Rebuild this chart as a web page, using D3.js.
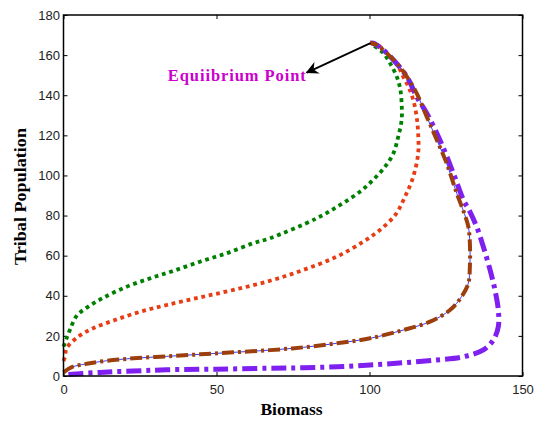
<!DOCTYPE html>
<html>
<head>
<meta charset="utf-8">
<script src="https://cdn.jsdelivr.net/npm/d3@7"></script>
<style>
  body { margin: 0; background: #fff; }
  svg { display: block; }
</style>
</head>
<body>
<div id="chart"></div>
<script>
const width = 536;
const height = 426;

// trajectories, [biomass, tribal population]
const greenPath = [[0, 14.6], [1, 18.8], [2.1, 23], [4.3, 30], [8.1, 34.6], [13, 39], [20.6, 44.5],
  [28.3, 48.7], [35.9, 52.4], [44.6, 57], [53.3, 61.2], [62, 66.2], [67.5, 68.7], [82.7, 78.6],
  [90.4, 85.3], [96.9, 91.9], [101.2, 97.8], [105.1, 104.4], [107.8, 111], [109.4, 119.4],
  [110.5, 127.7], [110.5, 136], [110, 143.5], [108.9, 149.3], [106.7, 156], [104.5, 161],
  [101.2, 165], [100.3, 166]];
const redPath = [[0, 7.5], [0.5, 9.6], [1, 13.8], [4.8, 19.6], [9.7, 23.8], [16.8, 27.9], [25, 32],
  [33.7, 35.4], [44.6, 39.2], [55.5, 42.9], [67.5, 47.5], [78.4, 52.9], [89.3, 59.5], [98, 67],
  [103.4, 72.8], [108.5, 80.5], [111.6, 89.4], [114.3, 99.4], [115.9, 111], [115.9, 121],
  [115.4, 129.3], [114.3, 137.7], [112.7, 144.3], [111, 149.3], [109.4, 154.3], [106.7, 159.3],
  [103.4, 164.2], [100.3, 166]];
const brownPath = [[0, 1.8], [2.7, 4.4], [7.6, 6.1], [14.1, 7.6], [22.8, 8.8], [33.7, 9.8], [44.6, 10.8],
  [55.5, 11.8], [67.5, 12.9], [78.4, 14.3], [89.3, 16.3], [100.2, 18.8], [111, 22.9], [119.8, 27.1],
  [126.3, 32.9], [130.1, 39.6], [132.3, 46.2], [132.8, 54.5], [132.8, 66.2], [132.3, 74.5],
  [131, 81], [128.5, 91.1], [125.2, 106.1], [122, 117.7], [118.7, 129.3], [115.4, 141],
  [112.2, 149.3], [108.9, 156], [105.6, 161], [102.4, 165.1], [100.2, 166.2]];
const purplePath = [[1.6, 0.8], [11.9, 1.8], [22.8, 2.5], [33.7, 3.1], [50, 3.4], [67.5, 3.9],
  [78.4, 4.1], [89.3, 4.6], [100.2, 5.5], [111, 6.6], [122, 8], [130.7, 9.6], [137.2, 13],
  [140.5, 18], [142.1, 24.6], [142.1, 32.9], [141, 42.9], [139.4, 52.9], [137.2, 64.5],
  [135, 74.5], [132.8, 82], [130.7, 87.8], [127.4, 101.1], [123, 117.7], [118.7, 131],
  [115.4, 139.3], [112.2, 149.3], [107.8, 157.6], [104.5, 162.6], [101.2, 166], [100.3, 166]];

const xTicks = [0, 50, 100, 150];
const yTicks = [0, 20, 40, 60, 80, 100, 120, 140, 160, 180];
const equilibrium = [100.3, 166];
const labelAt = [79.5, 151.3];

const margin = { top: 15, right: 13.5, bottom: 50, left: 63.5 };

const svg = d3.select("#chart")
  .append("svg")
  .attr("width", width)
  .attr("height", height);

const x = d3.scaleLinear().domain([0, 150]).range([margin.left, width - margin.right]);
const y = d3.scaleLinear().domain([0, 180]).range([height - margin.bottom, margin.top]);

const line = d3.line().x(d => x(d[0])).y(d => y(d[1])).curve(d3.curveCatmullRom.alpha(0.5));

const serif = "'Liberation Serif', 'Times New Roman', serif";

// axes, ticks inside on all four sides
function styleAxis(g, hideText) {
  g.select(".domain").remove();
  g.selectAll(".tick line").attr("stroke", "#000");
  g.selectAll(".tick text")
    .attr("font-family", "'Liberation Sans', Arial, sans-serif")
    .attr("font-size", 13)
    .attr("fill", "#222");
  if (hideText) g.selectAll(".tick text").remove();
}

svg.append("g")
  .attr("transform", `translate(0,${y(0)})`)
  .call(d3.axisBottom(x).tickValues(xTicks).tickSize(-4).tickPadding(9))
  .call(g => styleAxis(g, false));
svg.append("g")
  .attr("transform", `translate(0,${y(180)})`)
  .call(d3.axisTop(x).tickValues(xTicks).tickSize(-4))
  .call(g => styleAxis(g, true));
svg.append("g")
  .attr("transform", `translate(${x(0)},0)`)
  .call(d3.axisLeft(y).tickValues(yTicks).tickSize(-4).tickPadding(3.5))
  .call(g => styleAxis(g, false));
svg.append("g")
  .attr("transform", `translate(${x(150)},0)`)
  .call(d3.axisRight(y).tickValues(yTicks).tickSize(-4))
  .call(g => styleAxis(g, true));

// curves
svg.append("path").datum(greenPath).attr("d", line)
  .attr("fill", "none").attr("stroke", "#008000").attr("stroke-width", 3.8)
  .attr("stroke-dasharray", "3.8,3.8");
svg.append("path").datum(redPath).attr("d", line)
  .attr("fill", "none").attr("stroke", "#e83c14").attr("stroke-width", 3.8)
  .attr("stroke-dasharray", "3.8,3.8");
svg.append("path").datum(purplePath).attr("d", line)
  .attr("fill", "none").attr("stroke", "#7f1ff0").attr("stroke-width", 5)
  .attr("stroke-dasharray", "15,5,4,5");
svg.append("path").datum(brownPath).attr("d", line)
  .attr("fill", "none").attr("stroke", "#3b3bff").attr("stroke-width", 1);
svg.append("path").datum(brownPath).attr("d", line)
  .attr("fill", "none").attr("stroke", "#9c3f0c").attr("stroke-width", 4)
  .attr("stroke-dasharray", "12,4,3,4");

// frame
svg.append("rect")
  .attr("x", x(0)).attr("y", y(180))
  .attr("width", x(150) - x(0)).attr("height", y(0) - y(180))
  .attr("fill", "none").attr("stroke", "#000").attr("stroke-width", 1.5);

// annotation
svg.append("defs").append("marker")
  .attr("id", "arrow")
  .attr("viewBox", "0 0 10 10")
  .attr("refX", 9).attr("refY", 5)
  .attr("markerWidth", 7).attr("markerHeight", 7)
  .attr("orient", "auto")
  .append("path")
  .attr("d", "M0,0 L10,5 L0,10 L3,5 Z")
  .attr("fill", "#000");

svg.append("line")
  .attr("x1", x(equilibrium[0])).attr("y1", y(equilibrium[1]))
  .attr("x2", x(labelAt[0])).attr("y2", y(labelAt[1]))
  .attr("stroke", "#000").attr("stroke-width", 1.8)
  .attr("marker-end", "url(#arrow)");

svg.append("text")
  .attr("x", x(labelAt[0]) - 139).attr("y", y(labelAt[1]) + 8)
  .attr("textLength", 138)
  .attr("lengthAdjust", "spacing")
  .attr("font-family", serif)
  .attr("font-weight", "bold")
  .attr("font-size", 16.5)
  .attr("fill", "#cc00cc")
  .text("Equiibrium Point");

// axis titles
svg.append("text")
  .attr("x", (x(0) + x(150)) / 2 - 1.5).attr("y", 415)
  .attr("text-anchor", "middle")
  .attr("font-family", serif)
  .attr("font-weight", "bold")
  .attr("font-size", 17.5)
  .text("Biomass");

svg.append("text")
  .attr("transform", `translate(26,${(y(0) + y(180)) / 2 + 1}) rotate(-90)`)
  .attr("text-anchor", "middle")
  .attr("font-family", serif)
  .attr("font-weight", "bold")
  .attr("font-size", 16.5)
  .attr("textLength", 137)
  .attr("lengthAdjust", "spacingAndGlyphs")
  .text("Tribal Population");
</script>
</body>
</html>
